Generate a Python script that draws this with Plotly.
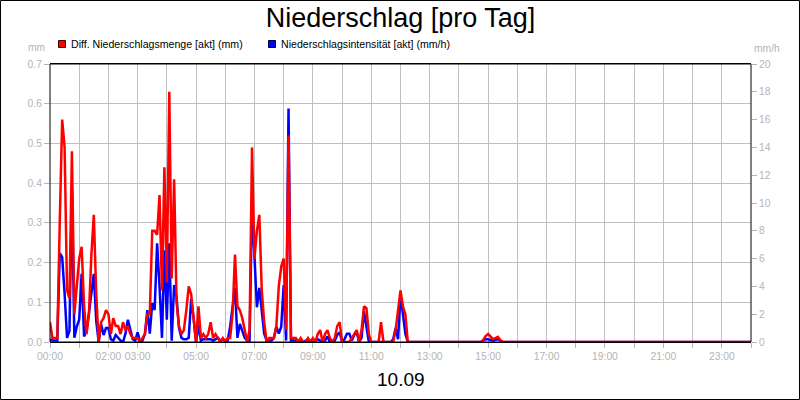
import plotly.graph_objects as go

# ---- data (5-minute steps, minutes since 00:00) ----
main_minutes = list(range(0, 745, 5))
tail_minutes = [885, 890, 895, 900, 905, 910, 915, 920, 925, 930, 1440]

red_main = [
    0.05, 0.01, 0.01, 0.01, 0.30, 0.56, 0.49, 0.13, 0.11, 0.48,   # 0-45
    0.07, 0.14, 0.21, 0.24, 0.09, 0.02, 0.07, 0.22, 0.32, 0.12,   # 50-95
    0.00, 0.05, 0.06, 0.08, 0.07, 0.02, 0.06, 0.04, 0.04, 0.02,   # 100-145
    0.05, 0.03, 0.04, 0.02, 0.01, 0.01, 0.01, 0.00, 0.01, 0.02,   # 150-195
    0.07, 0.07, 0.28, 0.28, 0.27, 0.37, 0.13, 0.44, 0.15, 0.63,   # 200-245
    0.16, 0.41, 0.10, 0.04, 0.02, 0.03, 0.08, 0.14, 0.12, 0.05,   # 250-295
    0.00, 0.09, 0.01, 0.02, 0.01, 0.02, 0.05, 0.01, 0.02, 0.01,   # 300-345
    0.00, 0.01, 0.00, 0.01, 0.01, 0.07, 0.22, 0.09, 0.08, 0.06,   # 350-395
    0.03, 0.00, 0.03, 0.49, 0.21, 0.28, 0.32, 0.13, 0.05, 0.00,   # 400-445
    0.01, 0.01, 0.01, 0.04, 0.14, 0.19, 0.21, 0.03, 0.52, 0.01,   # 450-495
    0.01, 0.01, 0.00, 0.01, 0.00, 0.00, 0.01, 0.00, 0.01, 0.00,   # 500-545
    0.02, 0.03, 0.00, 0.02, 0.03, 0.01, 0.00, 0.01, 0.04, 0.05,   # 550-595
    0.00, 0.00, 0.00, 0.00, 0.01, 0.02, 0.03, 0.00, 0.03, 0.09,   # 600-645
    0.085, 0.02, 0.00, 0.00, 0.00, 0.00, 0.05, 0.00, 0.00, 0.00,  # 650-695
    0.00, 0.00, 0.03, 0.08, 0.13, 0.09, 0.07, 0.00, 0.00,         # 700-740
]
red_tail = [0.0, 0.005, 0.015, 0.02, 0.012, 0.007, 0.01, 0.013, 0.005, 0.0, 0.0]

blue_main = [
    0.2, 0.1, 0.1, 0.1, 6.4, 6.1, 3.5, 0.3, 0.8, 11.1,   # 0-45
    0.3, 1.1, 1.6, 4.9, 0.4, 0.8, 2.1, 3.5, 4.9, 1.5,    # 50-95
    0.0, 1.3, 0.5, 1.0, 1.0, 0.2, 0.1, 0.5, 0.3, 0.1,    # 100-145
    0.0, 0.6, 1.6, 0.8, 0.2, 0.1, 0.7, 0.0, 0.1, 0.6,    # 150-195
    2.3, 0.6, 2.8, 2.3, 7.1, 4.0, 0.3, 6.6, 1.6, 7.1,    # 200-245
    0.1, 4.1, 3.2, 1.0, 0.3, 0.2, 0.2, 0.3, 3.1, 1.7,    # 250-295
    0.0, 1.2, 0.1, 0.2, 0.2, 0.2, 0.2, 0.1, 0.2, 0.3,    # 300-345
    0.1, 0.2, 0.1, 0.1, 1.1, 2.5, 3.9, 0.3, 1.3, 0.8,    # 350-395
    0.3, 0.1, 0.1, 9.9, 5.9, 2.5, 3.9, 2.3, 0.6, 0.1,    # 400-445
    0.1, 0.1, 0.3, 1.1, 0.6, 1.1, 4.1, 0.1, 16.8, 0.1,   # 450-495
    0.1, 0.1, 0.1, 0.1, 0.0, 0.1, 0.0, 0.1, 0.0, 0.1,    # 500-545
    0.2, 0.1, 0.0, 0.1, 0.4, 0.0, 0.0, 0.1, 0.5, 0.7,    # 550-595
    0.0, 0.2, 0.6, 0.6, 0.1, 0.5, 0.7, 0.0, 0.3, 2.2,    # 600-645
    1.0, 0.0, 0.0, 0.0, 0.0, 0.0, 0.0, 0.0, 0.0, 0.0,    # 650-695
    0.0, 0.2, 1.0, 0.2, 3.4, 2.0, 0.6, 0.0, 0.0,         # 700-740
]
blue_tail = [0.0, 0.1, 0.2, 0.2, 0.15, 0.1, 0.15, 0.2, 0.1, 0.0, 0.0]

hour_labels = ["00:00", "", "02:00", "03:00", "", "05:00", "", "07:00", "", "09:00", "",
               "11:00", "", "13:00", "", "15:00", "", "17:00", "", "19:00", "", "21:00",
               "", "23:00", ""]

title_text = "Niederschlag [pro Tag]"
date_text = "10.09"
red_name = "Diff. Niederschlagsmenge [akt] (mm)"
blue_name = "Niederschlagsintensität [akt] (mm/h)"

# ---- figure ----
W, H = 800, 400
L, R, T, B = 50, 49, 64, 58
PW, PH = W - L - R, H - T - B

def px(x):
    return (x - L) / PW

def py(y):
    return (H - B - y) / PH

FONT = "Liberation Sans, Arial, sans-serif"
GRAY = "#b4b4b4"
TICK_SIZE = 10.3

minutes = main_minutes + tail_minutes
hours = [m / 60 for m in minutes]
red_vals = red_main + red_tail
blue_vals = blue_main + blue_tail

fig = go.Figure()
# blue on the base axis (right side scale), red on overlay axis so it is drawn on top
fig.add_trace(go.Scatter(x=hours, y=blue_vals, mode="lines", yaxis="y",
                         line=dict(color="#0000ff", width=2.5), name=blue_name,
                         showlegend=False))
fig.add_trace(go.Scatter(x=hours, y=red_vals, mode="lines", yaxis="y2",
                         line=dict(color="#ff0000", width=2.5), name=red_name,
                         showlegend=False))

fig.update_layout(
    width=W, height=H,
    margin=dict(l=L, r=R, t=T, b=B),
    paper_bgcolor="white", plot_bgcolor="white",
    font=dict(family=FONT, size=11, color="black"),
    title=dict(text=title_text, x=0.5, xanchor="center", xref="paper",
               y=1 - 18 / H, yanchor="middle", yref="container",
               font=dict(size=27, color="black", family=FONT)),
    xaxis=dict(range=[0, 24], tickmode="array", tickvals=list(range(25)),
               ticktext=hour_labels, tickangle=0, showgrid=True,
               gridcolor="#c0c0c0", gridwidth=1,
               ticks="outside", ticklen=5, tickcolor=GRAY,
               tickfont=dict(color=GRAY, size=TICK_SIZE),
               showline=True, linecolor="black", linewidth=1, mirror=True,
               zeroline=False, automargin=False),
    yaxis=dict(range=[0, 20], dtick=2, side="right",
               showgrid=False, ticks="outside", ticklen=5, tickcolor=GRAY,
               tickfont=dict(color=GRAY, size=TICK_SIZE), showline=False,
               zeroline=False, automargin=False),
    yaxis2=dict(range=[0, 0.7], dtick=0.1, tickformat=".1f", overlaying="y",
                side="left", showgrid=True,
                gridcolor="#c0c0c0", gridwidth=1, ticks="outside", ticklen=5,
                tickcolor=GRAY, tickfont=dict(color=GRAY, size=TICK_SIZE),
                showline=False, zeroline=False, automargin=False),
)

shapes = [
    # plot frame
    dict(type="rect", xref="paper", yref="paper", x0=0, x1=1, y0=0, y1=1,
         line=dict(color="black", width=1), fillcolor="rgba(0,0,0,0)", layer="above"),
    # outer frame
    dict(type="rect", xref="paper", yref="paper",
         x0=px(0.5), x1=px(799.5), y0=py(399.5), y1=py(0.5),
         line=dict(color="black", width=1), fillcolor="rgba(0,0,0,0)", layer="above"),
    # legend swatches
    dict(type="rect", xref="paper", yref="paper",
         x0=px(58.5), x1=px(65.5), y0=py(47.5), y1=py(40.5),
         line=dict(color="#400000", width=1), fillcolor="#ff0000"),
    dict(type="rect", xref="paper", yref="paper",
         x0=px(268.5), x1=px(275.5), y0=py(47.5), y1=py(40.5),
         line=dict(color="#000040", width=1), fillcolor="#0000ff"),
]
annotations = [
    dict(text=red_name, xref="paper", yref="paper", x=px(68.5), y=py(44),
         xanchor="left", yanchor="middle", showarrow=False,
         font=dict(size=10.6, color="black", family=FONT)),
    dict(text=blue_name, xref="paper", yref="paper", x=px(278.5), y=py(44),
         xanchor="left", yanchor="middle", showarrow=False,
         font=dict(size=10.6, color="black", family=FONT)),
    dict(text="mm", xref="paper", yref="paper", x=px(47), y=py(48),
         xanchor="right", yanchor="middle", showarrow=False,
         font=dict(size=TICK_SIZE, color=GRAY, family=FONT)),
    dict(text="mm/h", xref="paper", yref="paper", x=px(752), y=py(49),
         xanchor="left", yanchor="middle", showarrow=False,
         font=dict(size=TICK_SIZE, color=GRAY, family=FONT)),
    dict(text=date_text, xref="paper", yref="paper", x=0.5, y=py(379),
         xanchor="center", yanchor="middle", showarrow=False,
         font=dict(size=19, color="black", family=FONT)),
]
fig.update_layout(shapes=shapes, annotations=annotations)

fig.write_html("out.html", config={"displayModeBar": False},
               post_script="document.body.style.margin='0';")
